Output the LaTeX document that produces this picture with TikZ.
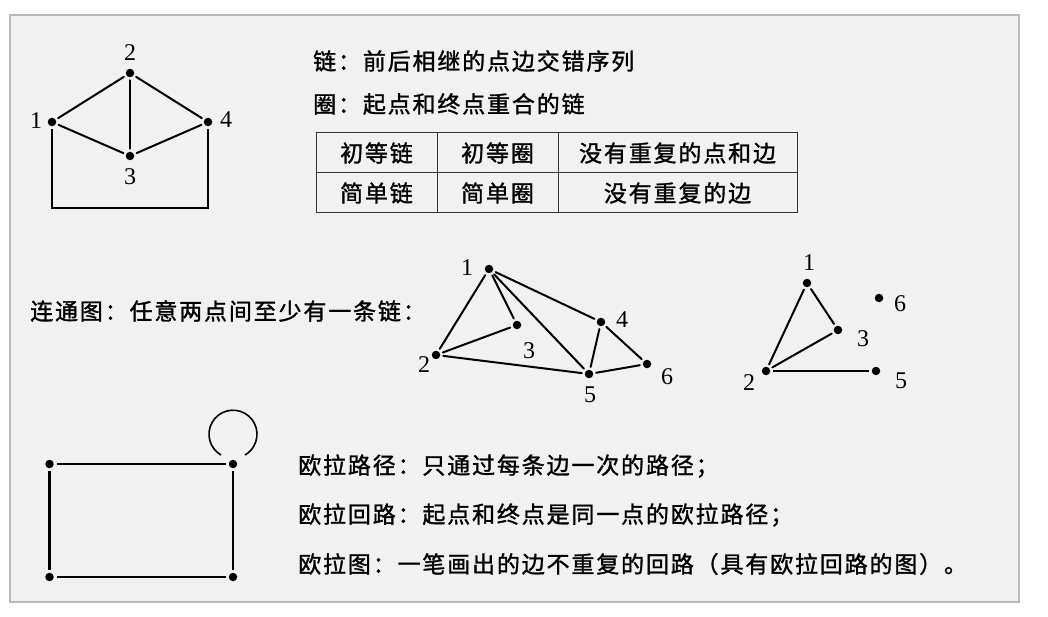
\documentclass[tikz,border=0pt]{standalone}
\usepackage{fontspec}
\setmainfont{Liberation Serif}
\newfontfamily\cjk{Noto Sans CJK SC}[LetterSpace=8,FakeBold=1.3]
\usetikzlibrary{positioning}
\definecolor{panelgray}{HTML}{F1F1F1}
\definecolor{framegray}{HTML}{B9B9B9}
\tikzset{
  vtx/.style={circle,fill=black,inner sep=0pt,minimum size=8.5pt,outer sep=3pt},
  num/.style={font=\fontsize{24}{24}\selectfont,inner sep=0pt},
  txt/.style={font=\cjk\fontsize{23}{23}\selectfont,anchor=west,inner sep=0pt},
  cell/.style={font=\cjk\fontsize{23}{23}\selectfont,inner sep=0pt},
  edge/.style={line width=2pt,line cap=round}
}

\begin{document}
\begin{tikzpicture}[x=1pt,y=-1pt]
  \useasboundingbox (0,0) rectangle (1048,617);
  % panel
  \draw [framegray,fill=panelgray,line width=1.5pt] (10,15) rectangle (1019,602);

  % graph with four points
  \node [vtx] (a1) at (52,122) {};
  \node [vtx] (a2) at (130,73) {};
  \node [vtx] (a3) at (130,156) {};
  \node [vtx] (a4) at (208,122) {};
  \node [num] at (36,121) {1};
  \node [num] at (130,53) {2};
  \node [num] at (130,177) {3};
  \node [num] at (226,120) {4};
  \draw [edge] (a1) -- (a2);
  \draw [edge] (a2) -- (a4);
  \draw [edge] (a2) -- (a3);
  \draw [edge] (a1) -- (a3);
  \draw [edge] (a3) -- (a4);
  \coordinate (abot) at (130,208);
  \draw [edge,line cap=butt] (a1) -- (a1 |- abot) -- (a4 |- abot) -- (a4);

  % definitions
  \node [txt] (chain) at (313,61) {链：前后相继的点边交错序列};
  \node [txt] (cycle) at (313,104) {圈：起点和终点重合的链};

  % table
  \draw [line width=1pt,black!80] (316,133) rectangle (797,213);
  \draw [line width=1pt,black!80] (316,173) -- (797,173);
  \draw [line width=1pt,black!80] (437,133) -- (437,213);
  \draw [line width=1pt,black!80] (558,133) -- (558,213);
  \node [cell] (t11) at (376.5,153) {初等链};
  \node [cell] (t12) at (497.5,153) {初等圈};
  \node [cell] (t13) at (677.5,153) {没有重复的点和边};
  \node [cell] (t21) at (376.5,193) {简单链};
  \node [cell] (t22) at (497.5,193) {简单圈};
  \node [cell] (t23) at (677.5,193) {没有重复的边};

  % connected graph
  \node [txt] (conn) at (30,311) {连通图：任意两点间至少有一条链：};
  \node [vtx] (b1) at (489,269) {};
  \node [vtx] (b2) at (436,355) {};
  \node [vtx] (b3) at (517,325) {};
  \node [vtx] (b4) at (601,322) {};
  \node [vtx] (b5) at (589,374) {};
  \node [vtx] (b6) at (647,364) {};
  \node [num] at (467,268) {1};
  \node [num] at (424,365) {2};
  \node [num] at (529,351) {3};
  \node [num] at (622,320) {4};
  \node [num] at (590,395) {5};
  \node [num] at (667,377) {6};
  \draw [edge] (b1) -- (b2);
  \draw [edge] (b1) -- (b3);
  \draw [edge] (b1) -- (b5);
  \draw [edge] (b1) -- (b4);
  \draw [edge] (b2) -- (b3);
  \draw [edge] (b2) -- (b5);
  \draw [edge] (b4) -- (b5);
  \draw [edge] (b4) -- (b6);
  \draw [edge] (b5) -- (b6);

  % graph that is not connected
  \node [vtx] (c1) at (807,283) {};
  \node [vtx] (c2) at (766,371) {};
  \node [vtx] (c3) at (838,330) {};
  \node [vtx] (c5) at (876,371) {};
  \node [vtx] (c6) at (879,298) {};
  \node [num] at (809,263) {1};
  \node [num] at (749,383) {2};
  \node [num] at (863,339) {3};
  \node [num] at (901,381) {5};
  \node [num] at (900,304) {6};
  \draw [edge] (c1) -- (c2);
  \draw [edge] (c1) -- (c3);
  \draw [edge] (c2) -- (c3);
  \draw [edge,line width=2.8pt,line cap=butt] (c2) -- (c5);

  % euler graph
  \node [vtx] (d1) at (49.5,464) {};
  \node [vtx] (d2) at (233,464) {};
  \node [vtx] (d3) at (49.5,577) {};
  \node [vtx] (d4) at (233,577) {};
  \draw [edge,line width=2.6pt,line cap=butt] (d1) -- (d2);
  \draw [edge,line width=2.6pt,line cap=butt] (d1) -- (d3);
  \draw [edge,line cap=butt] (d3) -- (d4);
  \draw [edge,line cap=butt] (d2) -- (d4);
  \draw [line width=1.6pt] ([shift={(-12,-9)}]d2.center) arc[start angle=120,end angle=420,radius=24];

  \node [txt] (path) at (298,466) {欧拉路径：只通过每条边一次的路径；};
  \node [txt] (circuit) at (298,515) {欧拉回路：起点和终点是同一点的欧拉路径；};
  \node [txt] (euler) at (298,564) {欧拉图：一笔画出的边不重复的回路（具有欧拉回路的图）。};
\end{tikzpicture}
\end{document}
